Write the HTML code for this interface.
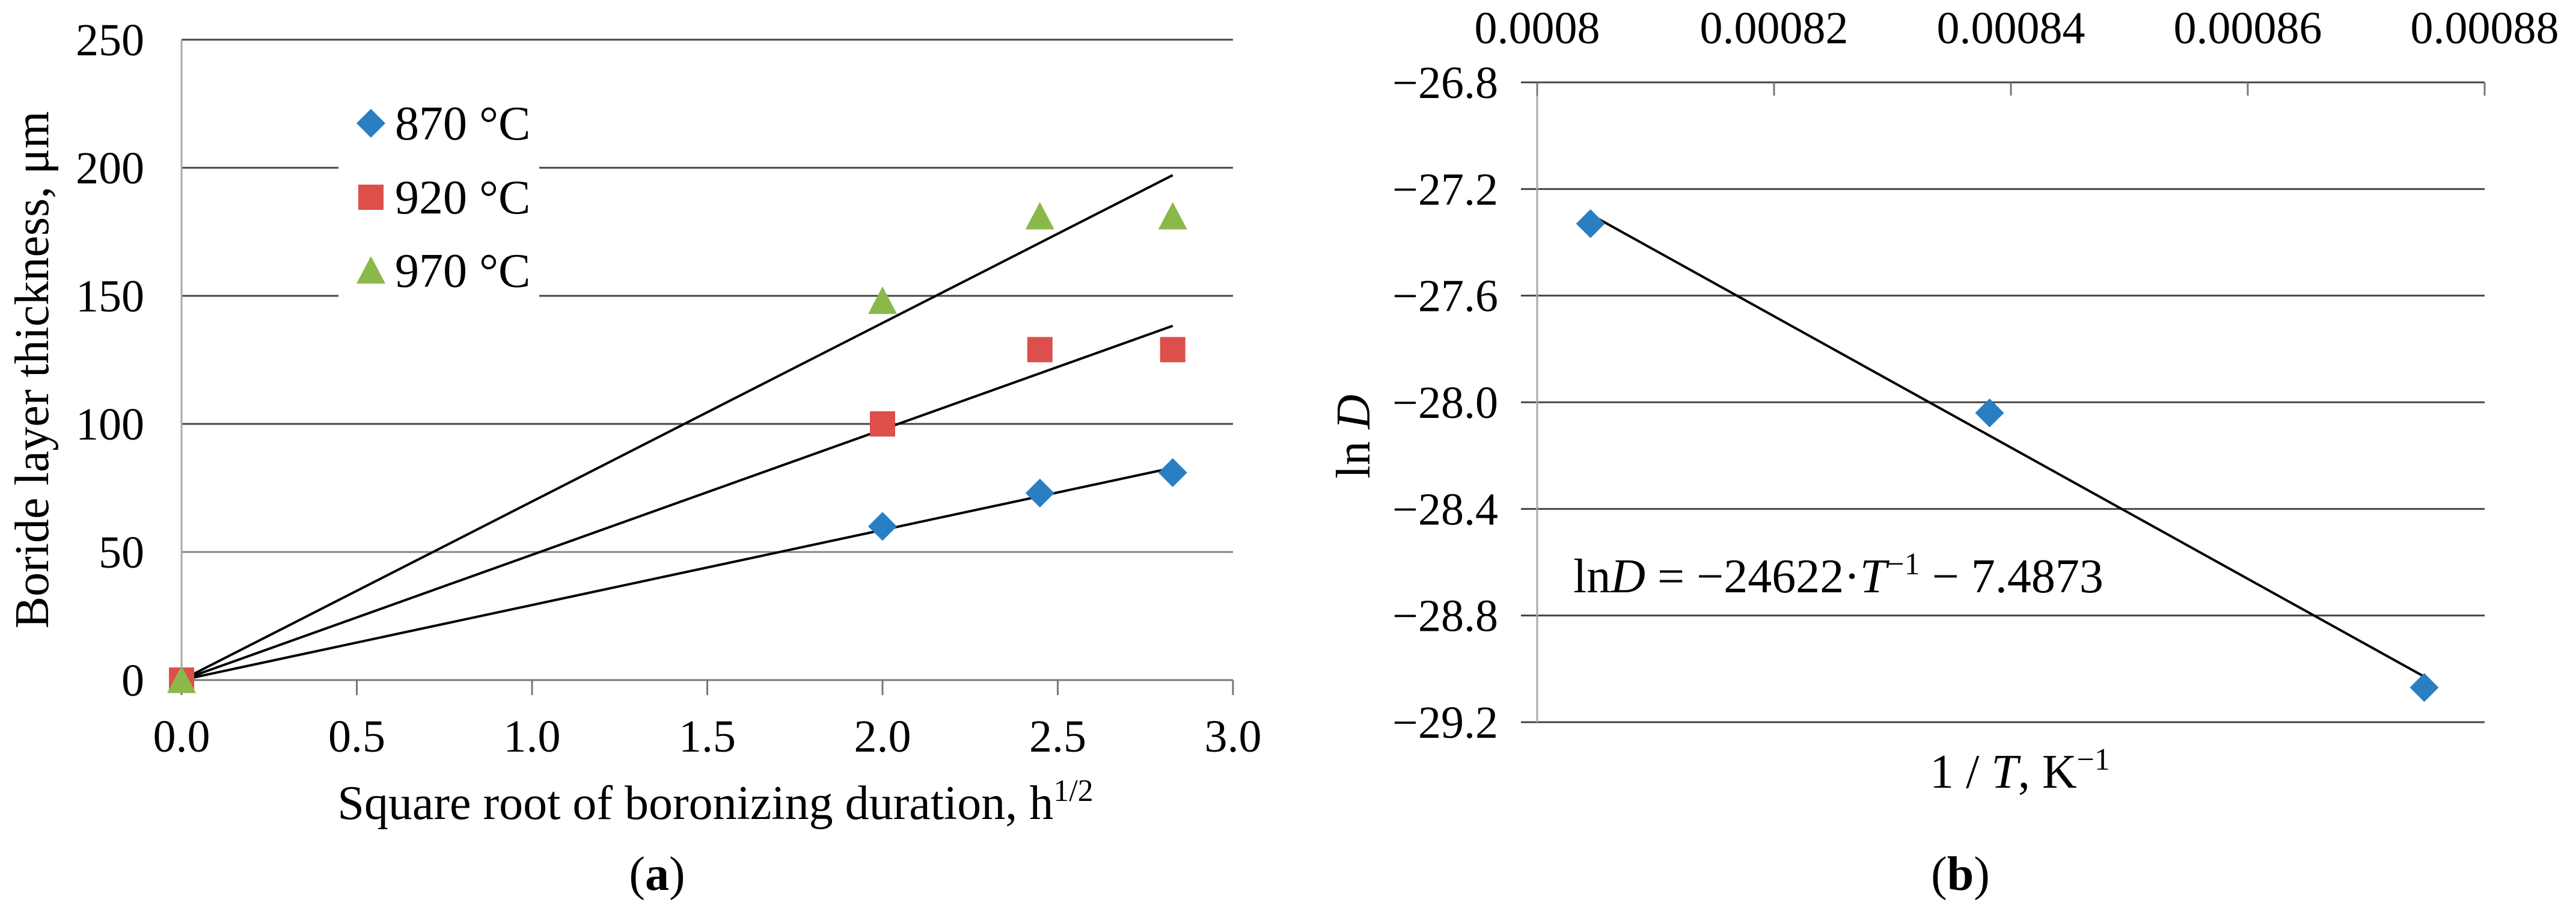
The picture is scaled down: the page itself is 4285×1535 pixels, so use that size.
<!DOCTYPE html>
<html><head><meta charset="utf-8"><style>
html,body{margin:0;padding:0;background:#fff;}
svg{display:block;}
svg text{font-family:"Liberation Serif","DejaVu Serif","Times New Roman",serif;}
</style></head><body>
<svg id="s" width="4285" height="1535" viewBox="0 0 4285 1535" xmlns="http://www.w3.org/2000/svg" font-family="Liberation Serif, DejaVu Serif, serif">
<g id="ga"></g>
<g id="gb"></g>
</svg>
<script>
// Chart (a) data
const aX = [0, 2, 2.449, 2.828];
const a870 = [0, 60, 73, 81];
const a920 = [0, 100, 129, 129];
const a970 = [0, 148, 181, 181];
const aSlopes = [29.3, 48.9, 69.7];
const aXTicks = ["0.0","0.5","1.0","1.5","2.0","2.5","3.0"];
const aYTicks = ["0","50","100","150","200","250"];
// Chart (b) data
const bX = [0.0008045, 0.0008382, 0.0008749];
const bY = [-27.33, -28.04, -29.07];
const bXTicks = ["0.0008","0.00082","0.00084","0.00086","0.00088"];
const bYTicks = ["-26.8","-27.2","-27.6","-28.0","-28.4","-28.8","-29.2"];
const bFit = [-24622, -7.4873];

const NS="http://www.w3.org/2000/svg";
const FF='"Liberation Serif","DejaVu Serif",serif';
function mk(p,tag,at,txt){const e=document.createElementNS(NS,tag);for(const k in at)e.setAttribute(k,at[k]);if(tag==='text'){e.setAttribute('font-family',FF);e.style.fontFamily=FF;}if(txt!=null)e.textContent=txt;p.appendChild(e);return e;}
const FS=76;
// ---- chart a ----
const ga=document.getElementById('ga');
const ax=v=>302+v*(2051-302)/3;
const ay=v=>1131-v*(1131-66)/250;
aYTicks.forEach(t=>{const v=+t;
 if(v>0){
  if(v===200||v===150){
   const l1=mk(ga,'line',{x1:ax(0),x2:563,y1:ay(v),y2:ay(v),stroke:'#444','stroke-width':3});
   
   
   const l2=mk(ga,'line',{x1:897,x2:ax(3),y1:ay(v),y2:ay(v),stroke:'#444','stroke-width':3});
   
   
  } else {
   const l=mk(ga,'line',{x1:ax(0),x2:ax(3),y1:ay(v),y2:ay(v),stroke:v===50?'#888':'#444','stroke-width':3});
   
   
  }
 }
 const tx=mk(ga,'text',{x:240,y:ay(v)+26,'font-size':FS,'text-anchor':'end'},t);
 
 
});
const yaxA=mk(ga,'line',{x1:ax(0),x2:ax(0),y1:ay(250),y2:ay(0),stroke:'#aaa','stroke-width':3});


const xaxA=mk(ga,'line',{x1:ax(0),x2:ax(3),y1:ay(0),y2:ay(0),stroke:'#777','stroke-width':3});


aXTicks.forEach(t=>{const v=+t;
 const tk=mk(ga,'line',{x1:ax(v),x2:ax(v),y1:ay(0),y2:ay(0)+25,stroke:'#777','stroke-width':3});
 
 
 const tx=mk(ga,'text',{x:ax(v),y:1250,'font-size':FS,'text-anchor':'middle'},t);
 
 
});
aSlopes.forEach((s,i)=>{
 const l=mk(ga,'line',{x1:ax(0),y1:ay(0),x2:ax(2.828),y2:ay(s*2.828),stroke:'#000','stroke-width':4});
 
 
});
function diamond(g,x,y,r){return mk(g,'polygon',{points:`${x},${y-r} ${x+r},${y} ${x},${y+r} ${x-r},${y}`,fill:'#2a7ec2'});}
function square(g,x,y,r){return mk(g,'rect',{x:x-r,y:y-r,width:2*r,height:2*r,fill:'#dd4f4b'});}
function tri(g,x,y,r){return mk(g,'polygon',{points:`${x},${y-r} ${x+r},${y+r*0.9} ${x-r},${y+r*0.9}`,fill:'#8bb84a'});}
aX.forEach((x,i)=>{
 const p1=square(ga,ax(x),ay(a920[i]),21);
 
 
});
aX.forEach((x,i)=>{
 const p2=tri(ga,ax(x),ay(a970[i]),24);
 
 
});
aX.forEach((x,i)=>{
 if(i===0)return;
 const p3=diamond(ga,ax(x),ay(a870[i]),24);
 
 
});
const legG=mk(ga,'g',{});


const labs=['870 °C','920 °C','970 °C'];
const fns=[diamond,square,tri];
const rs=[24,21,24];
labs.forEach((L,i)=>{
 const by=[232,355,477][i];
 const m=fns[i](legG,617,by-27,rs[i]);
 
 
 const t=mk(legG,'text',{x:657,y:by,'font-size':80},L);
 
 
});
const yt=mk(ga,'text',{x:0,y:0,'font-size':80,'text-anchor':'middle',transform:'translate(80,615) rotate(-90)'},'Boride layer thickness, μm');


const xt=mk(ga,'text',{x:1190,y:1362,'font-size':80,'text-anchor':'middle'});


xt.innerHTML='Square root of boronizing duration, h<tspan font-size="52" dy="-30">1/2</tspan>';
const la=mk(ga,'text',{x:1093,y:1480,'font-size':80,'text-anchor':'middle'});


la.innerHTML='(<tspan font-weight="bold">a</tspan>)';

// ---- chart b ----
const gb=document.getElementById('gb');
const bx=v=>2557+(v-0.0008)*(4133-2557)/0.00008;
const by=v=>137+(-26.8-v)*(1201-137)/2.4;
bYTicks.forEach(t=>{const v=+t;
 const l=mk(gb,'line',{x1:2530,x2:4133,y1:by(v),y2:by(v),stroke:'#444','stroke-width':3});
 
 
 const tx=mk(gb,'text',{x:2492,y:by(v)+26,'font-size':FS,'text-anchor':'end'},t.replace('-','\u2212'));
 
 
});
const yaxB=mk(gb,'line',{x1:2557,x2:2557,y1:by(-26.8),y2:by(-29.2),stroke:'#aaa','stroke-width':3});


bXTicks.forEach(t=>{const v=+t;
 const tk=mk(gb,'line',{x1:bx(v),x2:bx(v),y1:by(-26.8),y2:by(-26.8)+22,stroke:'#777','stroke-width':3});
 
 
 const tx=mk(gb,'text',{x:bx(v),y:72,'font-size':FS,'text-anchor':'middle'},t);
 
 
});
const fl=mk(gb,'line',{x1:bx(bX[0]),y1:by(bFit[0]*bX[0]+bFit[1]),x2:bx(bX[2]),y2:by(bFit[0]*bX[2]+bFit[1]),stroke:'#000','stroke-width':4});


bX.forEach((x,i)=>{
 const p=diamond(gb,bx(x),by(bY[i]),24);
 
 
});
const eq=mk(gb,'text',{x:2617,y:985,'font-size':80});


eq.innerHTML='ln<tspan font-style="italic">D</tspan> = \u221224622·<tspan font-style="italic">T</tspan><tspan font-size="52" dy="-30">\u22121</tspan><tspan dy="30"> \u2212 7.4873</tspan>';
const ybt=mk(gb,'text',{x:0,y:0,'font-size':80,'text-anchor':'middle',transform:'translate(2278,726) rotate(-90)'});


ybt.innerHTML='ln <tspan font-style="italic">D</tspan>';
const xbt=mk(gb,'text',{x:3360,y:1310,'font-size':80,'text-anchor':'middle'});


xbt.innerHTML='1 / <tspan font-style="italic">T</tspan>, K<tspan font-size="52" dy="-30">\u22121</tspan>';
const lb=mk(gb,'text',{x:3261,y:1480,'font-size':80,'text-anchor':'middle'});


lb.innerHTML='(<tspan font-weight="bold">b</tspan>)';
</script>
</body></html>
